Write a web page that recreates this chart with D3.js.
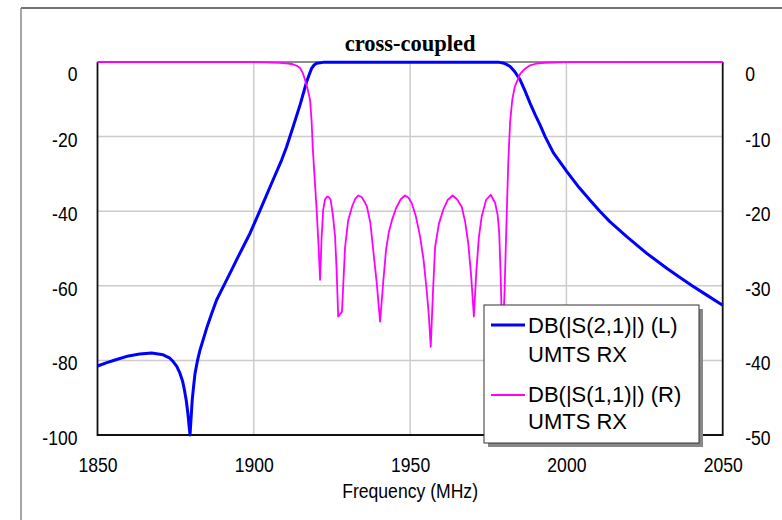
<!DOCTYPE html>
<html><head><meta charset="utf-8">
<script src="https://cdn.jsdelivr.net/npm/d3@7/dist/d3.min.js"></script>
<style>
html,body{margin:0;padding:0;background:#fff;}
svg{display:block;}
</style></head>
<body>
<svg id="chart" width="782" height="520"></svg>
<script>
// ---- data ----
const title = "cross-coupled";
const xLabel = "Frequency (MHz)";
const xTicks = [1850, 1900, 1950, 2000, 2050];
const yLeftTicks = [0, -20, -40, -60, -80, -100];
const yRightTicks = [0, -10, -20, -30, -40, -50];
const legendLabels = ["DB(|S(2,1)|) (L)", "UMTS RX", "DB(|S(1,1)|) (R)", "UMTS RX"];

// S21 (left axis, dB)
const s21Freq = [1850,1853,1855.6,1859.9,1863.5,1867.3,1871,1873,1874.2,1875.4,1876.4,1877.2,1877.8,1878.4,1878.9,1879.6,1880.3,1880.8,1881.2,1882,1882.8,1884.9,1886.5,1888.1,1890.8,1893,1895,1898.8,1902.5,1905.7,1908.9,1910.5,1912.6,1914.8,1916.9,1917.8,1918.5,1919.3,1920.1,1922.2,1950,1978.5,1979.7,1981,1982,1983.5,1985.2,1986.8,1988.4,1990,1991.6,1993.2,1995.8,2000.1,2004,2007.5,2010.7,2013.9,2019.3,2025.7,2032.1,2036,2040.1,2044.9,2050];
const s21dB = [-81.5,-80.6,-79.9,-78.8,-78.3,-78.0,-78.5,-79.3,-80.3,-81.7,-83.5,-85.5,-87.9,-90.8,-94.2,-100,-90.6,-86.5,-83.5,-80.0,-77.2,-71.4,-67.5,-63.8,-59.3,-55.6,-52.2,-45.9,-38.8,-32.5,-26.3,-22.7,-17.3,-11.5,-5.3,-3.2,-1.7,-0.8,-0.35,-0.1,-0.05,-0.1,-0.25,-0.7,-1.2,-2.6,-4.8,-7.8,-11.1,-14.1,-16.9,-20.0,-24.3,-29.3,-33.6,-37.0,-40.0,-42.8,-46.8,-51.3,-55.3,-57.6,-59.9,-62.5,-65.2];

// S11 (right axis, dB)
const s11Freq = [1850,1900,1904,1908.4,1911,1912.5,1914,1914.8,1915.7,1916.4,1917.2,1918,1918.5,1918.9,1919.5,1920.1,1920.7,1921.2,1921.7,1922.2,1922.8,1923.4,1924,1924.6,1925.3,1926,1926.5,1927,1928.2,1929.2,1930.2,1931.5,1932.5,1933.4,1934.5,1935.5,1936.2,1937.3,1938.2,1939.3,1940.4,1941.4,1942.3,1943.2,1944.2,1945.5,1947,1948.4,1949.5,1950.5,1951.8,1953.2,1954.3,1955.3,1956,1956.6,1957.3,1958,1959.2,1960.6,1962,1963.6,1965,1966.5,1967.6,1968.6,1969.5,1970.4,1971.2,1972,1972.9,1974.3,1975.8,1977.2,1978,1978.5,1979,1979.5,1980.2,1980.8,1981.4,1982,1982.7,1983.5,1985.2,1986.8,1988.4,1990.5,1993,2000,2050];
const s11dB = [0,0,-0.05,-0.12,-0.2,-0.3,-0.55,-0.8,-1.5,-2.4,-3.6,-5.1,-8,-11.8,-15.8,-19.8,-24.5,-29.2,-23.5,-19.8,-18.4,-18.05,-18.1,-18.5,-20.5,-23.4,-28,-34.1,-33.5,-24.8,-21.2,-19.3,-18.3,-17.9,-18.1,-18.8,-19.4,-21.6,-25.2,-29.5,-34.8,-29.5,-25.2,-22.8,-21.2,-19.6,-18.4,-17.9,-18.2,-18.9,-20.6,-23.4,-26.5,-30.6,-34,-38.2,-31,-24.8,-21.7,-19.8,-18.5,-17.9,-18.4,-19.4,-21.4,-24.3,-28.5,-34.1,-28,-23.5,-20.7,-18.5,-17.8,-18.9,-20.5,-22.9,-29,-38,-31,-22,-13.5,-8,-5,-3.3,-1.6,-0.9,-0.45,-0.2,-0.1,-0.03,0];

// ---- layout ----
const svg = d3.select("#chart");
const L = 97.5, R = 722.7, T = 62, B = 435;
const x = d3.scaleLinear().domain([1850, 2050]).range([L, R]);
const yL = d3.scaleLinear().domain([-100, 0]).range([B, T]);
const yR = d3.scaleLinear().domain([-50, 0]).range([B, T]);
const SX = 0.88;
const tickFont = "'Liberation Sans', Arial, sans-serif";
const fmt = d => String(d);

// outer frame
svg.append("line").attr("x1", 21).attr("y1", 8).attr("x2", 782).attr("y2", 8).attr("stroke", "#444").attr("stroke-width", 1.5);
svg.append("line").attr("x1", 21).attr("y1", 8).attr("x2", 21).attr("y2", 520).attr("stroke", "#888").attr("stroke-width", 1.5);

// gridlines
const grid = svg.append("g");
grid.selectAll(".gx").data(xTicks.slice(1, -1)).join("line")
  .attr("x1", d => x(d)).attr("x2", d => x(d)).attr("y1", T).attr("y2", B)
  .attr("stroke", "#cccccc").attr("stroke-width", 1.5);
grid.selectAll(".gy").data(yLeftTicks.slice(1, -1)).join("line")
  .attr("x1", L).attr("x2", R).attr("y1", d => yL(d)).attr("y2", d => yL(d))
  .attr("stroke", "#cccccc").attr("stroke-width", 1.5);

// plot border
svg.append("line").attr("x1", L).attr("x2", R).attr("y1", T).attr("y2", T).attr("stroke", "#666").attr("stroke-width", 1.5);
svg.append("path").attr("d", `M${L},${T}V${B}H${R}V${T}`).attr("fill", "none").attr("stroke", "#111").attr("stroke-width", 1.8);

// axes
function styleTicks(g, anchor, dxPx, dyPx, lastExtra) {
  g.select(".domain").remove();
  g.selectAll(".tick line").remove();
  const n = g.selectAll(".tick text").size();
  g.selectAll(".tick text")
    .attr("x", 0).attr("y", 0).attr("dy", null)
    .attr("text-anchor", anchor)
    .attr("font-family", tickFont).attr("font-size", 20).attr("fill", "#000")
    .attr("transform", (d, i) => `translate(${dxPx},${dyPx + (i === n - 1 ? lastExtra : 0)}) scale(${SX},1.05)`);
}
const axL = svg.append("g").attr("transform", `translate(${L},0)`)
  .call(d3.axisLeft(yL).tickValues(yLeftTicks.slice().reverse()).tickSize(0).tickFormat(fmt));
styleTicks(axL, "end", -20, 9.5, 8.5);
const axR = svg.append("g").attr("transform", `translate(${R},0)`)
  .call(d3.axisRight(yR).tickValues(yRightTicks.slice().reverse()).tickSize(0).tickFormat(fmt));
styleTicks(axR, "start", 22.5, 9.5, 8.5);
const axB = svg.append("g").attr("transform", `translate(0,${B})`)
  .call(d3.axisBottom(x).tickValues(xTicks).tickSize(0).tickFormat(fmt));
styleTicks(axB, "middle", 0, 37, 0);

// curves
const lineL = d3.line().x((d, i) => x(s21Freq[i])).y(d => yL(d));
const lineR = d3.line().x((d, i) => x(s11Freq[i])).y(d => yR(d));
svg.append("path").datum(s21dB).attr("d", lineL).attr("fill", "none")
  .attr("stroke", "#0000ff").attr("stroke-width", 3).attr("stroke-linejoin", "round");
svg.append("path").datum(s11dB).attr("d", lineR).attr("fill", "none")
  .attr("stroke", "#ff00ff").attr("stroke-width", 1.8).attr("stroke-linejoin", "round");

// title
svg.append("text").attr("x", (L + R) / 2).attr("y", 51).attr("text-anchor", "middle")
  .attr("font-family", "'Liberation Serif', 'Times New Roman', serif").attr("font-weight", "bold")
  .attr("font-size", 22.5).text(title);

// x label
svg.append("text").attr("transform", `translate(${(L + R) / 2},497.5) scale(${SX},1.05)`)
  .attr("text-anchor", "middle").attr("font-family", tickFont).attr("font-size", 20).text(xLabel);

// legend
const lg = svg.append("g");
lg.append("rect").attr("x", 488).attr("y", 309).attr("width", 215).attr("height", 138).attr("fill", "#888");
lg.append("rect").attr("x", 484).attr("y", 305).attr("width", 215).attr("height", 138)
  .attr("fill", "#fff").attr("stroke", "#333").attr("stroke-width", 1);
const legendColors = ["#0000ff", "#ff00ff"];
const legendWidths = [3, 2];
const legendLineY = [325, 395];
legendColors.forEach((c, i) => {
  lg.append("line").attr("x1", 491).attr("x2", 525).attr("y1", legendLineY[i]).attr("y2", legendLineY[i])
    .attr("stroke", c).attr("stroke-width", legendWidths[i]);
});
const legendBase = [333, 361.5, 402, 429];
lg.selectAll(".lt").data(legendLabels).join("text")
  .attr("x", 528).attr("y", (d, i) => legendBase[i])
  .attr("font-family", tickFont).attr("font-size", 22).attr("fill", "#000")
  .text(d => d);
</script>
</body></html>
